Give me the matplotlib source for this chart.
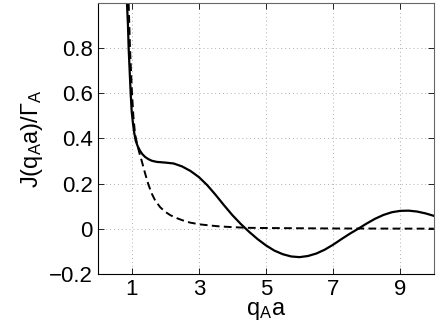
import numpy as np
import matplotlib
matplotlib.use('Agg')
import matplotlib.pyplot as plt

plt.rcParams['font.family'] = ['Liberation Sans', 'DejaVu Sans']
plt.rcParams['mathtext.fontset'] = 'custom'
plt.rcParams['mathtext.rm'] = 'Liberation Sans'
plt.rcParams['mathtext.it'] = 'Liberation Sans:italic'

# values
x_solid = [0.86, 0.89, 0.91, 0.94, 0.97, 1.0, 1.04, 1.07, 1.12, 1.18, 1.25, 1.32, 1.4,
           1.5, 1.6, 1.75, 2.0, 2.25, 2.5, 2.75, 3.0, 3.25, 3.5, 3.75, 4.0, 4.25, 4.5,
           4.75, 5.0, 5.25, 5.5, 5.75, 6.0, 6.25, 6.5, 6.75, 7.0, 7.25, 7.5, 7.75, 8.0,
           8.25, 8.5, 8.75, 9.0, 9.25, 9.5, 9.75, 10.0]
y_solid = [1.0, 0.9, 0.8, 0.7, 0.6, 0.52, 0.465, 0.43, 0.39, 0.365, 0.345, 0.33, 0.318,
           0.308, 0.301, 0.296, 0.293, 0.289, 0.276, 0.256, 0.229, 0.193, 0.150, 0.104,
           0.060, 0.021, -0.014, -0.046, -0.074, -0.097, -0.113, -0.123, -0.126, -0.121,
           -0.110, -0.093, -0.071, -0.046, -0.022, 0.0, 0.023, 0.044, 0.061, 0.073, 0.079,
           0.080, 0.076, 0.068, 0.057]

x_dash = [0.91, 0.93, 0.95, 0.98, 1.01, 1.05, 1.1, 1.17, 1.24, 1.3, 1.4, 1.5, 1.6, 1.7,
          1.85, 2.0, 2.15, 2.34, 2.5, 2.74, 3.04, 3.35, 3.63, 4.0, 4.43, 5.0, 6.0, 7.0,
          8.0, 9.0, 10.0]
y_dash = [1.0, 0.9, 0.8, 0.7, 0.6, 0.5, 0.42, 0.37, 0.33, 0.3, 0.245, 0.195, 0.155,
          0.125, 0.095, 0.075, 0.06, 0.047, 0.038, 0.027, 0.019, 0.014, 0.01, 0.007,
          0.004, 0.003, 0.002, 0.001, 0.0007, 0.0004, 0.0002]

x_ticks = [1, 3, 5, 7, 9]
y_ticks = [-0.2, 0, 0.2, 0.4, 0.6, 0.8]
y_tick_labels = ['\u22120.2', '0', '0.2', '0.4', '0.6', '0.8']

fig = plt.figure(figsize=(4.36, 3.36), dpi=100)
ax = fig.add_axes([0.225, 0.185, 0.77, 0.806])

ax.plot(x_solid, y_solid, color='black', lw=1.6, solid_joinstyle='round')
ax.plot(x_dash, y_dash, color='black', lw=1.4, ls=(0, (4, 2.2)))

ax.set_xlim(0, 10)
ax.set_ylim(-0.2, 1.0)
ax.set_xticks(x_ticks)
ax.set_yticks(y_ticks)
ax.set_yticklabels(y_tick_labels)
ax.tick_params(direction='in', labelsize=16, length=4, width=0.6,
               top=True, right=True, pad=4)
ax.grid(True, ls=(0, (1, 3)), color='#b0b0b0', lw=0.7)
for s in ax.spines.values():
    s.set_linewidth(0.8)
ax.spines['top'].set_color('#666666')
ax.spines['right'].set_color('#666666')

ax.set_xlabel(r'q$_\mathrm{A}$a', fontsize=17, labelpad=0)
ax.set_ylabel(r'J(q$_\mathrm{A}$a)/$\Gamma_\mathrm{A}$', fontsize=17, labelpad=3)

fig.savefig('out.png', dpi=100)
